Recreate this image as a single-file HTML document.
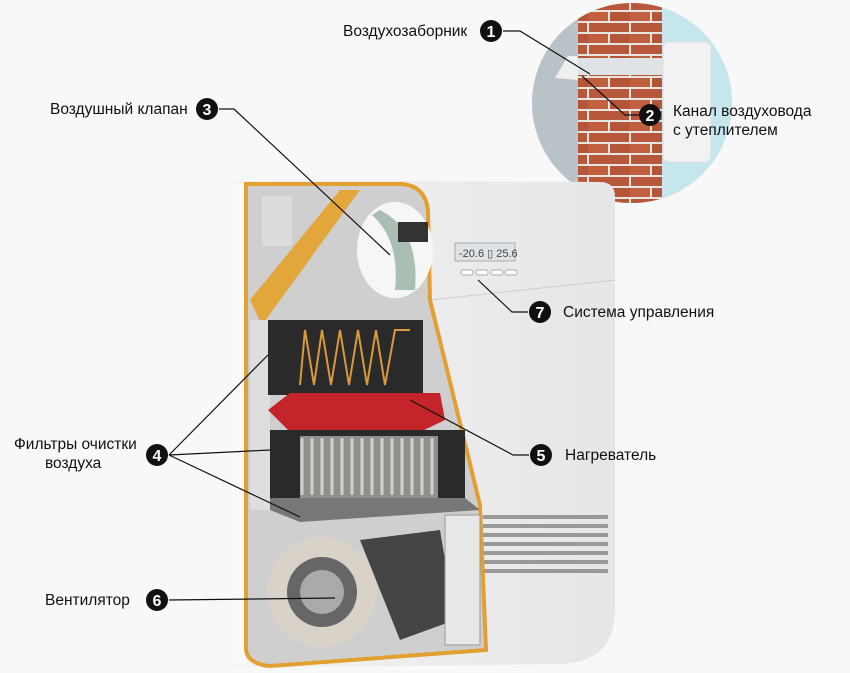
<!DOCTYPE html>
<html><head><meta charset="utf-8"><style>
body{margin:0;background:#f8f8f8;}
svg{display:block}
text{font-family:"Liberation Sans",sans-serif;font-size:15.5px;fill:#111}
.n{fill:#fff;font-weight:bold;font-size:16px;text-anchor:middle}
</style></head><body>
<svg width="850" height="673" viewBox="0 0 850 673">
<defs>
<clipPath id="c"><circle cx="632" cy="103" r="100"/></clipPath>
<pattern id="br" width="42" height="22" patternUnits="userSpaceOnUse">
<rect width="42" height="22" fill="#e8e4e0"/>
<rect x="1" y="1" width="40" height="9" fill="#b8583a"/>
<rect x="-20" y="12" width="40" height="9" fill="#c0603f"/>
<rect x="22" y="12" width="40" height="9" fill="#b55538"/>
</pattern>
<linearGradient id="dev" x1="0" x2="1"><stop offset="0" stop-color="#f4f4f4"/><stop offset="1" stop-color="#e6e6e6"/></linearGradient>
</defs>
<g clip-path="url(#c)">
<rect x="530" y="0" width="210" height="210" fill="#b9c3c7"/>
<rect x="578" y="0" width="84" height="210" fill="url(#br)"/>
<rect x="662" y="0" width="80" height="210" fill="#c6e6ee"/>
<rect x="663" y="42" width="48" height="120" rx="6" fill="#f2f2f2" stroke="#ddd"/>
<rect x="575" y="58" width="88" height="17" fill="#dfe3e5"/>
<polygon points="555,78 568,56 578,56 578,80" fill="#eef0f1"/>
</g>
<path d="M232,190 Q232,180 242,180 L600,182 Q615,182 615,197 L615,610 Q615,662 560,664 L240,668 Q232,668 232,655 Z" fill="url(#dev)"/>
<rect x="232" y="184" width="14" height="480" fill="#fafafa"/>
<path d="M430,300 L615,280" stroke="#ccc"/>
<rect x="455" y="243" width="60" height="18" fill="#dde3e6" stroke="#aaa"/>
<text x="459" y="257" style="font-size:11px;fill:#444">-20.6 ▯ 25.6</text>
<g fill="#fff" stroke="#aaa"><rect x="461" y="270" width="12" height="5" rx="2"/><rect x="476" y="270" width="12" height="5" rx="2"/><rect x="491" y="270" width="12" height="5" rx="2"/><rect x="505" y="270" width="12" height="5" rx="2"/></g>
<g fill="#999"><rect x="483" y="515" width="125" height="4"/><rect x="483" y="524" width="125" height="4"/><rect x="483" y="533" width="125" height="4"/><rect x="483" y="542" width="125" height="4"/><rect x="483" y="551" width="125" height="4"/><rect x="483" y="560" width="125" height="4"/><rect x="483" y="569" width="125" height="4"/></g>
<path d="M246,184 L402,184 Q425,186 428,210 L430,300 L480,505 L486,650 L270,666 Q248,664 246,650 Z" fill="#cfcfcf" stroke="#e2a030" stroke-width="4"/>
<path d="M250,300 L340,190 L360,190 L262,325 Z" fill="#e3a63a"/>
<rect x="262" y="196" width="30" height="50" fill="#dcdcdc"/>
<ellipse cx="395" cy="250" rx="38" ry="48" fill="#f6f6f6"/>
<path d="M380,210 Q420,230 415,290 L395,290 Q400,240 372,215Z" fill="#a9bfb4"/>
<rect x="398" y="222" width="30" height="20" fill="#333"/>
<rect x="250" y="320" width="20" height="190" fill="#dedede"/>
<rect x="268" y="320" width="155" height="75" fill="#2a2a2a"/>
<polyline points="300,385 305,330 314,385 322,330 331,385 340,330 349,385 358,330 367,385 376,330 385,385 395,330 410,330" fill="none" stroke="#d89a3a" stroke-width="2"/>
<polygon points="268,410 290,393 440,393 445,420 420,432 290,432" fill="#c4252a"/>
<rect x="270" y="430" width="195" height="70" fill="#2a2a2a"/>
<g stroke="#bbb" stroke-width="3"><line x1="302" y1="438" x2="302" y2="495"/><line x1="312" y1="438" x2="312" y2="495"/><line x1="322" y1="438" x2="322" y2="495"/><line x1="332" y1="438" x2="332" y2="495"/><line x1="342" y1="438" x2="342" y2="495"/><line x1="352" y1="438" x2="352" y2="495"/><line x1="362" y1="438" x2="362" y2="495"/><line x1="372" y1="438" x2="372" y2="495"/><line x1="382" y1="438" x2="382" y2="495"/><line x1="392" y1="438" x2="392" y2="495"/><line x1="402" y1="438" x2="402" y2="495"/><line x1="412" y1="438" x2="412" y2="495"/><line x1="422" y1="438" x2="422" y2="495"/><line x1="432" y1="438" x2="432" y2="495"/></g>
<rect x="300" y="436" width="138" height="62" fill="#e6e2dc" opacity=".55"/>
<polygon points="270,498 465,498 480,510 300,522 270,510" fill="#777"/>
<circle cx="322" cy="592" r="55" fill="#d8d2c8"/>
<circle cx="322" cy="592" r="35" fill="#666"/>
<circle cx="322" cy="592" r="22" fill="#aaa"/>
<path d="M360,540 L440,530 L455,620 L400,640 Z" fill="#444"/>
<rect x="445" y="515" width="35" height="130" fill="#e8e8e8" stroke="#999"/>
<g stroke="#111" stroke-width="1.2" fill="none">
<polyline points="503,31 520,31 590,74"/>
<polyline points="640,115 625,115 582,76"/>
<polyline points="219,109 234,109 390,255"/>
<polyline points="528,312 512,312 478,280"/>
<polyline points="529,455 513,455 410,400"/>
<polyline points="169,455 268,355"/>
<polyline points="169,455 270,450"/>
<polyline points="169,455 300,517"/>
<polyline points="169,600 335,598"/>
</g>
<g>
<circle cx="491" cy="31" r="11" fill="#111"/><text class="n" x="491" y="37">1</text>
<circle cx="650" cy="115" r="11" fill="#111"/><text class="n" x="650" y="121">2</text>
<circle cx="207" cy="109" r="11" fill="#111"/><text class="n" x="207" y="115">3</text>
<circle cx="157" cy="455" r="11" fill="#111"/><text class="n" x="157" y="461">4</text>
<circle cx="541" cy="455" r="11" fill="#111"/><text class="n" x="541" y="461">5</text>
<circle cx="157" cy="600" r="11" fill="#111"/><text class="n" x="157" y="606">6</text>
<circle cx="540" cy="312" r="11" fill="#111"/><text class="n" x="540" y="318">7</text>
</g>
<text x="343" y="36">Воздухозаборник</text>
<text x="673" y="116">Канал воздуховода</text>
<text x="673" y="135">с утеплителем</text>
<text x="50" y="114">Воздушный клапан</text>
<text x="563" y="317">Система управления</text>
<text x="565" y="460">Нагреватель</text>
<text x="14" y="449">Фильтры очистки</text>
<text x="45" y="468">воздуха</text>
<text x="45" y="605">Вентилятор</text>
</svg>
</body></html>
